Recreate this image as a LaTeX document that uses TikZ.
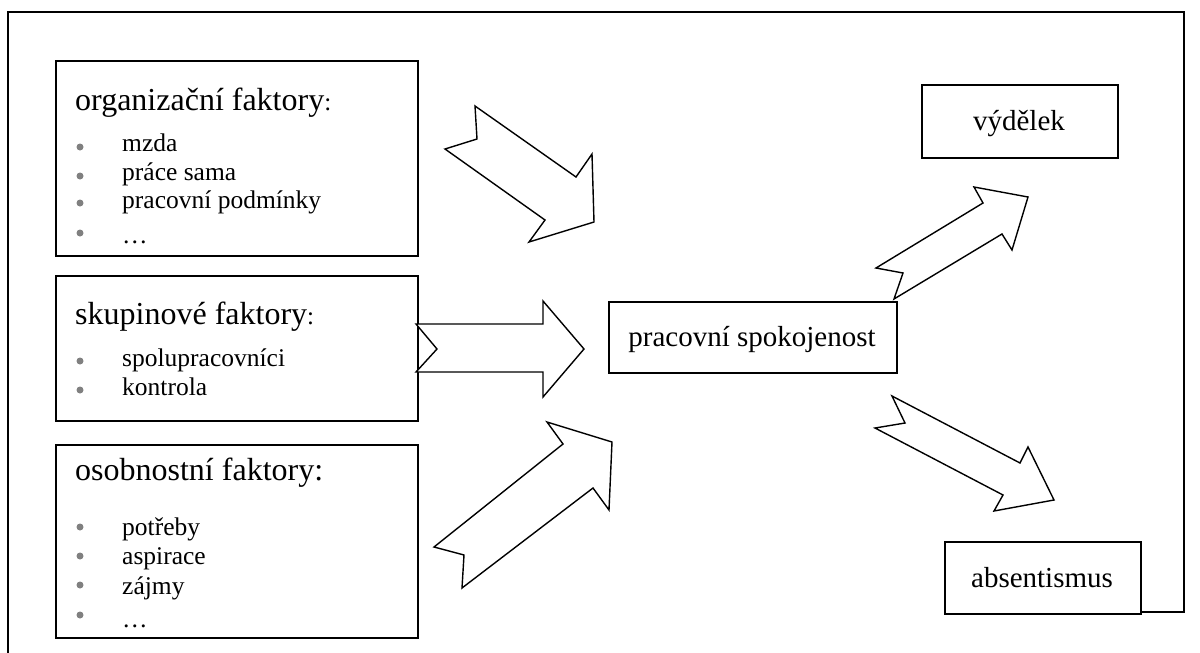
\documentclass[tikz,border=0pt]{standalone}
\usepackage{fontspec}
\setmainfont{Liberation Serif}
\newcommand{\smallcolon}{{\fontsize{25}{30}\selectfont:}}
\begin{document}
\begin{tikzpicture}[x=1pt,y=-1pt,
  box/.style={draw,line width=1.9pt,fill=white,inner sep=0pt,anchor=north west},
  blockarrow/.style={draw,line width=1.4pt,fill=white,line join=miter},
  title/.style={anchor=base west,inner sep=0pt,font=\fontsize{32}{36}\selectfont},
  item/.style={anchor=base west,inner sep=0pt,font=\fontsize{25.5}{30}\selectfont},
  mid/.style={anchor=base,inner sep=0pt,font=\fontsize{29}{33}\selectfont},
  bul/.style={circle,fill=gray,inner sep=0pt,minimum size=7pt}]
\useasboundingbox (0,0) rectangle (1200,653);
% outer frame
\draw[line width=1.9pt] (8,653) -- (8,12) -- (1184,12) -- (1184,612) -- (1100,612);
% boxes
\node[box,minimum width=362pt,minimum height=195pt] (b1) at (55,60) {};
\node[box,minimum width=362pt,minimum height=145pt] (b2) at (55,275) {};
\node[box,minimum width=362pt,minimum height=193pt] (b3) at (55,444) {};
\node[box,minimum width=288pt,minimum height=71pt] (c) at (608,301) {};
\node[box,minimum width=196pt,minimum height=73pt] (v) at (921,84) {};
\node[box,minimum width=196pt,minimum height=72pt] (a) at (944,541) {};
% box 1
\node[title] (t1) at (75,110) {organizační faktory\smallcolon};
\node[item] (i11) at (122,151) {mzda};
\node[item] (i12) at (122,180) {práce sama};
\node[item] (i13) at (122,208) {pracovní podmínky};
\node[item] (i14) at (122,243) {…};
\foreach \y/\n in {147/p11,176/p12,203/p13,233/p14}{\node[bul] (\n) at (80,\y) {};}
% box 2
\node[title] (t2) at (75,324) {skupinové faktory\smallcolon};
\node[item] (i21) at (122,366) {spolupracovníci};
\node[item] (i22) at (122,395) {kontrola};
\foreach \y/\n in {361/p21,390/p22}{\node[bul] (\n) at (80,\y) {};}
% box 3
\node[title] (t3) at (75,480) {osobnostní faktory:};
\node[item] (i31) at (122,535) {potřeby};
\node[item] (i32) at (122,564) {aspirace};
\node[item] (i33) at (122,594) {zájmy};
\node[item] (i34) at (122,627) {…};
\foreach \y/\n in {527/p31,556/p32,585/p33,615/p34}{\node[bul] (\n) at (80,\y) {};}
% right texts
\node[mid] (tc) at (752,346) {pracovní spokojenost};
\node[mid] (tv) at (1019,130) {výdělek};
\node[mid] (ta) at (1042,587) {absentismus};
% block arrows
\draw[blockarrow] (475,106) -- (477,139) -- (445,149) -- (545,220) -- (529,242) -- (594,222) -- (592,154) -- (576,177) -- cycle;
\draw[blockarrow] (416,324) -- (543,324) -- (543,301) -- (584,349) -- (543,397) -- (543,372) -- (416,372) -- (437,349) -- cycle;
\draw[blockarrow] (434,547) -- (464,555) -- (462,588) -- (593,488) -- (609,510) -- (612,442) -- (547,422) -- (563,444) -- cycle;
\draw[blockarrow] (876,268) -- (903,273) -- (894,299) -- (1002,234) -- (1012,250) -- (1028,197) -- (974,187) -- (983,203) -- cycle;
\draw[blockarrow] (892,396) -- (905,423) -- (875,428) -- (1003,495) -- (994,511) -- (1054,500) -- (1028,447) -- (1020,463) -- cycle;
\end{tikzpicture}
\end{document}
